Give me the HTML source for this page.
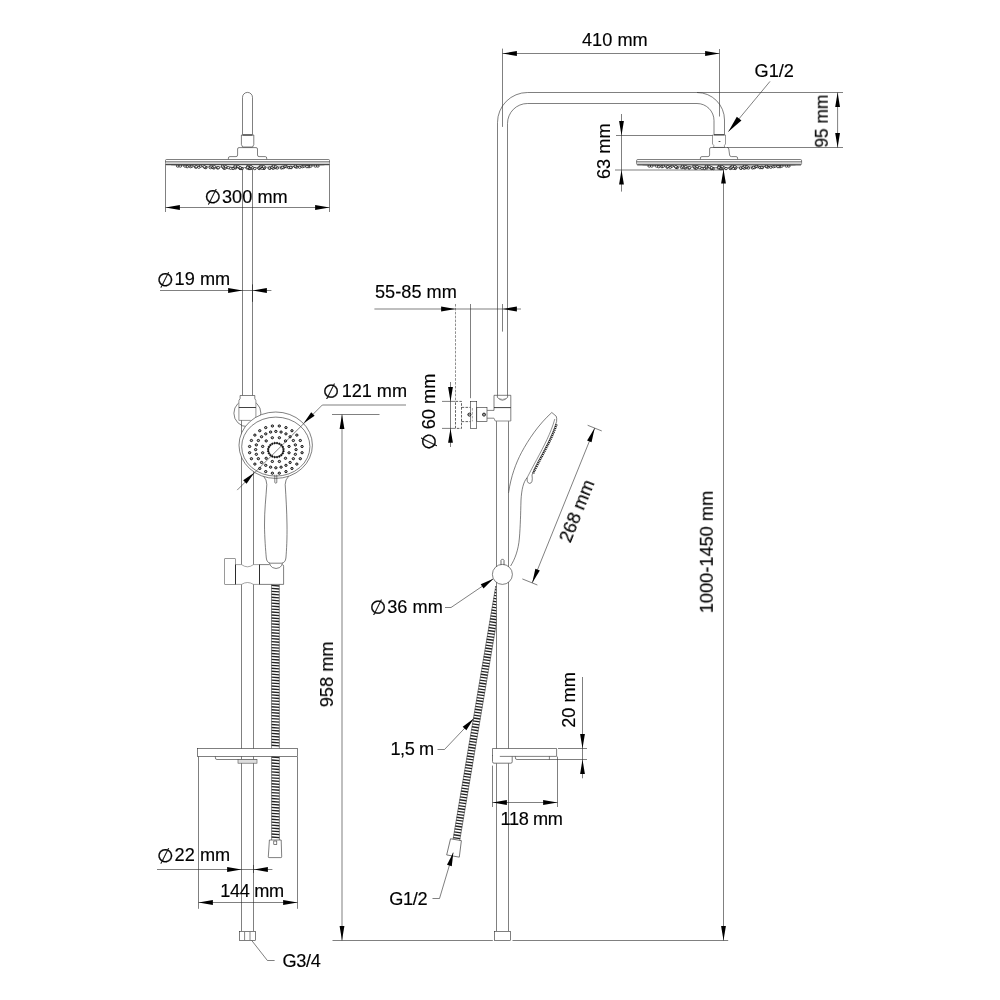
<!DOCTYPE html>
<html lang="en">
<head>
<meta charset="utf-8">
<title>Shower system dimensions</title>
<style>
html,body{margin:0;padding:0;background:#fff;}
body{width:1000px;height:1000px;overflow:hidden;}
svg{display:block;}
text{font-family:"Liberation Sans",Arial,sans-serif;fill:#000;stroke:#000;stroke-width:0.16px;stroke-linejoin:round;}
.d{stroke-width:0.3px;}
.d{font-family:"DejaVu Sans","Liberation Sans",sans-serif;font-size:19px;}
</style>
</head>
<body>
<svg width="1000" height="1000" viewBox="0 0 1000 1000">
<rect x="0" y="0" width="1000" height="1000" fill="#fff"/>
<path d="M242.5 134.5 V97.4 A5 5 0 0 1 252.5 97.4 V134.5" stroke="#2a2a2a" stroke-width="0.6" fill="none"/>
<path d="M241.4 135 H253.8 V144.5 L252.6 147 H242.6 L241.4 144.5 Z" stroke="#2a2a2a" stroke-width="0.6" fill="none"/>
<line x1="242.5" y1="135" x2="252.5" y2="135" stroke="#2a2a2a" stroke-width="1.1"/>
<path d="M228.4 159.5 V158 Q228.4 156.6 230 156.6 H236 Q237.6 156.6 237.6 155 V149 Q237.6 147.6 239 147.6 H256 Q257.5 147.6 257.5 149 V155 Q257.5 156.6 259 156.6 H265.2 Q266.7 156.6 266.7 158 V159.5" stroke="#2a2a2a" stroke-width="0.6" fill="none"/>
<path d="M171 164.8 Q247.75 170.2 324.5 164.8" stroke="#444" stroke-width="0.6" fill="none"/>
<ellipse cx="291.08" cy="167.67" rx="1.45" ry="1.1" stroke="#000" stroke-width="0.7" fill="#fff"/>
<ellipse cx="308.96" cy="166.7" rx="1.45" ry="1.1" stroke="#000" stroke-width="0.7" fill="#fff"/>
<ellipse cx="273.1" cy="168.31" rx="1.45" ry="1.1" stroke="#000" stroke-width="0.7" fill="#fff"/>
<ellipse cx="317.75" cy="166.09" rx="1.45" ry="1.1" stroke="#000" stroke-width="0.7" fill="#fff"/>
<ellipse cx="177.82" cy="166.09" rx="1.45" ry="1.1" stroke="#000" stroke-width="0.7" fill="#fff"/>
<ellipse cx="195.8" cy="167.23" rx="1.45" ry="1.1" stroke="#000" stroke-width="0.7" fill="#fff"/>
<ellipse cx="299.68" cy="167.23" rx="1.45" ry="1.1" stroke="#000" stroke-width="0.7" fill="#fff"/>
<ellipse cx="263.99" cy="168.51" rx="1.45" ry="1.1" stroke="#000" stroke-width="0.7" fill="#fff"/>
<ellipse cx="187.21" cy="166.7" rx="1.45" ry="1.1" stroke="#000" stroke-width="0.7" fill="#fff"/>
<ellipse cx="213.79" cy="168.04" rx="1.45" ry="1.1" stroke="#000" stroke-width="0.7" fill="#fff"/>
<ellipse cx="281.5" cy="168.04" rx="1.45" ry="1.1" stroke="#000" stroke-width="0.7" fill="#fff"/>
<ellipse cx="205.75" cy="167.67" rx="1.45" ry="1.1" stroke="#000" stroke-width="0.7" fill="#fff"/>
<ellipse cx="306.96" cy="166.7" rx="1.45" ry="1.1" stroke="#000" stroke-width="0.7" fill="#fff"/>
<ellipse cx="315.43" cy="166.09" rx="1.45" ry="1.1" stroke="#000" stroke-width="0.7" fill="#fff"/>
<ellipse cx="180.27" cy="166.09" rx="1.45" ry="1.1" stroke="#000" stroke-width="0.7" fill="#fff"/>
<ellipse cx="288.9" cy="167.67" rx="1.45" ry="1.1" stroke="#000" stroke-width="0.7" fill="#fff"/>
<ellipse cx="254.77" cy="168.62" rx="1.45" ry="1.1" stroke="#000" stroke-width="0.7" fill="#fff"/>
<ellipse cx="198.8" cy="167.23" rx="1.45" ry="1.1" stroke="#000" stroke-width="0.7" fill="#fff"/>
<ellipse cx="296.65" cy="167.23" rx="1.45" ry="1.1" stroke="#000" stroke-width="0.7" fill="#fff"/>
<ellipse cx="190.53" cy="166.7" rx="1.45" ry="1.1" stroke="#000" stroke-width="0.7" fill="#fff"/>
<ellipse cx="224.14" cy="168.31" rx="1.45" ry="1.1" stroke="#000" stroke-width="0.7" fill="#fff"/>
<ellipse cx="310.81" cy="166.09" rx="1.45" ry="1.1" stroke="#000" stroke-width="0.7" fill="#fff"/>
<ellipse cx="185.01" cy="166.09" rx="1.45" ry="1.1" stroke="#000" stroke-width="0.7" fill="#fff"/>
<ellipse cx="302.36" cy="166.7" rx="1.45" ry="1.1" stroke="#000" stroke-width="0.7" fill="#fff"/>
<ellipse cx="233.1" cy="168.51" rx="1.45" ry="1.1" stroke="#000" stroke-width="0.7" fill="#fff"/>
<ellipse cx="217.68" cy="168.04" rx="1.45" ry="1.1" stroke="#000" stroke-width="0.7" fill="#fff"/>
<ellipse cx="269.82" cy="168.31" rx="1.45" ry="1.1" stroke="#000" stroke-width="0.7" fill="#fff"/>
<ellipse cx="210.48" cy="167.67" rx="1.45" ry="1.1" stroke="#000" stroke-width="0.7" fill="#fff"/>
<ellipse cx="277.22" cy="168.04" rx="1.45" ry="1.1" stroke="#000" stroke-width="0.7" fill="#fff"/>
<ellipse cx="196.34" cy="166.7" rx="1.45" ry="1.1" stroke="#000" stroke-width="0.7" fill="#fff"/>
<ellipse cx="204.65" cy="167.23" rx="1.45" ry="1.1" stroke="#000" stroke-width="0.7" fill="#fff"/>
<ellipse cx="290.77" cy="167.23" rx="1.45" ry="1.1" stroke="#000" stroke-width="0.7" fill="#fff"/>
<ellipse cx="283.38" cy="167.67" rx="1.45" ry="1.1" stroke="#000" stroke-width="0.7" fill="#fff"/>
<ellipse cx="304.04" cy="166.09" rx="1.45" ry="1.1" stroke="#000" stroke-width="0.7" fill="#fff"/>
<ellipse cx="191.9" cy="166.09" rx="1.45" ry="1.1" stroke="#000" stroke-width="0.7" fill="#fff"/>
<ellipse cx="295.39" cy="166.7" rx="1.45" ry="1.1" stroke="#000" stroke-width="0.7" fill="#fff"/>
<ellipse cx="242.02" cy="168.62" rx="1.45" ry="1.1" stroke="#000" stroke-width="0.7" fill="#fff"/>
<ellipse cx="259.38" cy="168.51" rx="1.45" ry="1.1" stroke="#000" stroke-width="0.7" fill="#fff"/>
<ellipse cx="204.41" cy="166.7" rx="1.45" ry="1.1" stroke="#000" stroke-width="0.7" fill="#fff"/>
<ellipse cx="218.23" cy="167.67" rx="1.45" ry="1.1" stroke="#000" stroke-width="0.7" fill="#fff"/>
<ellipse cx="295.35" cy="166.09" rx="1.45" ry="1.1" stroke="#000" stroke-width="0.7" fill="#fff"/>
<ellipse cx="230.56" cy="168.31" rx="1.45" ry="1.1" stroke="#000" stroke-width="0.7" fill="#fff"/>
<ellipse cx="200.68" cy="166.09" rx="1.45" ry="1.1" stroke="#000" stroke-width="0.7" fill="#fff"/>
<ellipse cx="213" cy="167.23" rx="1.45" ry="1.1" stroke="#000" stroke-width="0.7" fill="#fff"/>
<ellipse cx="282.4" cy="167.23" rx="1.45" ry="1.1" stroke="#000" stroke-width="0.7" fill="#fff"/>
<ellipse cx="225.19" cy="168.04" rx="1.45" ry="1.1" stroke="#000" stroke-width="0.7" fill="#fff"/>
<ellipse cx="269.39" cy="168.04" rx="1.45" ry="1.1" stroke="#000" stroke-width="0.7" fill="#fff"/>
<ellipse cx="286.32" cy="166.7" rx="1.45" ry="1.1" stroke="#000" stroke-width="0.7" fill="#fff"/>
<ellipse cx="274.98" cy="167.67" rx="1.45" ry="1.1" stroke="#000" stroke-width="0.7" fill="#fff"/>
<ellipse cx="262.17" cy="168.31" rx="1.45" ry="1.1" stroke="#000" stroke-width="0.7" fill="#fff"/>
<ellipse cx="214.37" cy="166.7" rx="1.45" ry="1.1" stroke="#000" stroke-width="0.7" fill="#fff"/>
<ellipse cx="285.05" cy="166.09" rx="1.45" ry="1.1" stroke="#000" stroke-width="0.7" fill="#fff"/>
<ellipse cx="211.07" cy="166.09" rx="1.45" ry="1.1" stroke="#000" stroke-width="0.7" fill="#fff"/>
<ellipse cx="223.37" cy="167.23" rx="1.45" ry="1.1" stroke="#000" stroke-width="0.7" fill="#fff"/>
<ellipse cx="272" cy="167.23" rx="1.45" ry="1.1" stroke="#000" stroke-width="0.7" fill="#fff"/>
<ellipse cx="275.58" cy="166.7" rx="1.45" ry="1.1" stroke="#000" stroke-width="0.7" fill="#fff"/>
<ellipse cx="240.28" cy="168.51" rx="1.45" ry="1.1" stroke="#000" stroke-width="0.7" fill="#fff"/>
<ellipse cx="228.37" cy="167.67" rx="1.45" ry="1.1" stroke="#000" stroke-width="0.7" fill="#fff"/>
<ellipse cx="264.37" cy="167.67" rx="1.45" ry="1.1" stroke="#000" stroke-width="0.7" fill="#fff"/>
<ellipse cx="273.47" cy="166.09" rx="1.45" ry="1.1" stroke="#000" stroke-width="0.7" fill="#fff"/>
<ellipse cx="225.78" cy="166.7" rx="1.45" ry="1.1" stroke="#000" stroke-width="0.7" fill="#fff"/>
<ellipse cx="235.43" cy="168.04" rx="1.45" ry="1.1" stroke="#000" stroke-width="0.7" fill="#fff"/>
<ellipse cx="222.7" cy="166.09" rx="1.45" ry="1.1" stroke="#000" stroke-width="0.7" fill="#fff"/>
<ellipse cx="258.94" cy="168.04" rx="1.45" ry="1.1" stroke="#000" stroke-width="0.7" fill="#fff"/>
<ellipse cx="240.38" cy="168.31" rx="1.45" ry="1.1" stroke="#000" stroke-width="0.7" fill="#fff"/>
<ellipse cx="263.61" cy="166.7" rx="1.45" ry="1.1" stroke="#000" stroke-width="0.7" fill="#fff"/>
<ellipse cx="235.16" cy="167.23" rx="1.45" ry="1.1" stroke="#000" stroke-width="0.7" fill="#fff"/>
<ellipse cx="260.2" cy="167.23" rx="1.45" ry="1.1" stroke="#000" stroke-width="0.7" fill="#fff"/>
<ellipse cx="261.02" cy="166.09" rx="1.45" ry="1.1" stroke="#000" stroke-width="0.7" fill="#fff"/>
<ellipse cx="235.19" cy="166.09" rx="1.45" ry="1.1" stroke="#000" stroke-width="0.7" fill="#fff"/>
<ellipse cx="240.09" cy="167.67" rx="1.45" ry="1.1" stroke="#000" stroke-width="0.7" fill="#fff"/>
<ellipse cx="249.05" cy="168.62" rx="1.45" ry="1.1" stroke="#000" stroke-width="0.7" fill="#fff"/>
<ellipse cx="238.16" cy="166.7" rx="1.45" ry="1.1" stroke="#000" stroke-width="0.7" fill="#fff"/>
<ellipse cx="250.32" cy="168.51" rx="1.45" ry="1.1" stroke="#000" stroke-width="0.7" fill="#fff"/>
<ellipse cx="251.66" cy="168.31" rx="1.45" ry="1.1" stroke="#000" stroke-width="0.7" fill="#fff"/>
<ellipse cx="252.42" cy="167.67" rx="1.45" ry="1.1" stroke="#000" stroke-width="0.7" fill="#fff"/>
<ellipse cx="250.96" cy="166.7" rx="1.45" ry="1.1" stroke="#000" stroke-width="0.7" fill="#fff"/>
<ellipse cx="247.15" cy="168.04" rx="1.45" ry="1.1" stroke="#000" stroke-width="0.7" fill="#fff"/>
<ellipse cx="248.11" cy="166.09" rx="1.45" ry="1.1" stroke="#000" stroke-width="0.7" fill="#fff"/>
<ellipse cx="247.68" cy="167.23" rx="1.45" ry="1.1" stroke="#000" stroke-width="0.7" fill="#fff"/>
<path d="M166.5 159.5 H328.5 Q329.5 159.5 329.5 160.5 V163.6 Q329.5 164.7 328.5 164.7 H166.5 Q165.5 164.7 165.5 163.6 V160.5 Q165.5 159.5 166.5 159.5 Z" stroke="#2a2a2a" stroke-width="0.6" fill="#fff"/>
<rect x="165.8" y="162.2" width="163.4" height="2.3" rx="0" stroke="none" stroke-width="0.6" fill="#d0d0d0"/>
<line x1="165.5" y1="161.7" x2="329.5" y2="161.7" stroke="#2a2a2a" stroke-width="0.6"/>
<line x1="166" y1="164.6" x2="329" y2="164.6" stroke="#222" stroke-width="0.8"/>
<line x1="242.5" y1="169.5" x2="242.5" y2="395.5" stroke="#2a2a2a" stroke-width="0.6"/>
<line x1="252.5" y1="169.5" x2="252.5" y2="395.5" stroke="#2a2a2a" stroke-width="0.6"/>
<circle cx="247.4" cy="413.2" r="13.5" stroke="#2a2a2a" stroke-width="0.6" fill="none"/>
<path d="M240.1 395.5 H254.8 V398.5 L255.9 400.6 V420.4 H238.9 V400.6 L240.1 398.5 Z" stroke="#fff" stroke-width="0.1" fill="#fff"/>
<path d="M238.9 400.6 L240.1 398.5 V395.5 H254.8 V398.5 L255.9 400.6" stroke="#2a2a2a" stroke-width="0.6" fill="none"/>
<path d="M238.9 400.6 V420.4 H250.5 M255.9 400.6 V420.4" stroke="#8a8a8a" stroke-width="0.9" fill="none"/>
<line x1="238.9" y1="407.5" x2="255.9" y2="407.5" stroke="#111" stroke-width="0.8"/>
<line x1="241.5" y1="420.4" x2="241.5" y2="931" stroke="#2a2a2a" stroke-width="0.6"/>
<line x1="253.5" y1="420.5" x2="253.5" y2="931" stroke="#2a2a2a" stroke-width="0.6"/>
<rect x="239.5" y="931.5" width="16" height="9" rx="0" stroke="#2a2a2a" stroke-width="0.6" fill="#fff"/>
<line x1="244.6" y1="931.5" x2="244.6" y2="940.5" stroke="#777" stroke-width="0.9"/>
<line x1="250" y1="931.5" x2="250" y2="940.5" stroke="#777" stroke-width="0.9"/>
<rect x="197.5" y="748.5" width="100" height="8" rx="0" stroke="#2a2a2a" stroke-width="0.6" fill="#fff"/>
<path d="M215.4 756.5 V758 Q215.4 759.5 217 759.5 H257" stroke="#2a2a2a" stroke-width="0.6" fill="none"/>
<rect x="238" y="759.5" width="19" height="3.7" rx="0" stroke="#555" stroke-width="0.6" fill="#ddd"/>
<path d="M271.5 585.4 L279.3 586 M271.5 588.36 L279.3 588.96 M271.5 591.32 L279.3 591.92 M271.5 594.28 L279.3 594.88 M271.51 597.24 L279.31 597.84 M271.51 600.2 L279.31 600.8 M271.51 603.16 L279.31 603.76 M271.51 606.12 L279.31 606.72 M271.51 609.08 L279.31 609.68 M271.51 612.04 L279.31 612.64 M271.51 615 L279.31 615.6 M271.51 617.96 L279.31 618.56 M271.51 620.92 L279.31 621.52 M271.52 623.88 L279.32 624.48 M271.52 626.84 L279.32 627.44 M271.52 629.8 L279.32 630.4 M271.52 632.76 L279.32 633.36 M271.52 635.72 L279.32 636.32 M271.52 638.68 L279.32 639.28 M271.52 641.64 L279.32 642.24 M271.52 644.6 L279.32 645.2 M271.52 647.56 L279.32 648.16 M271.53 650.52 L279.33 651.12 M271.53 653.48 L279.33 654.08 M271.53 656.44 L279.33 657.04 M271.53 659.4 L279.33 660 M271.53 662.36 L279.33 662.96 M271.53 665.32 L279.33 665.92 M271.53 668.28 L279.33 668.88 M271.53 671.24 L279.33 671.84 M271.54 674.2 L279.34 674.8 M271.54 677.16 L279.34 677.76 M271.54 680.12 L279.34 680.72 M271.54 683.08 L279.34 683.68 M271.54 686.04 L279.34 686.64 M271.54 689 L279.34 689.6 M271.54 691.96 L279.34 692.56 M271.54 694.92 L279.34 695.52 M271.54 697.88 L279.34 698.48 M271.55 700.84 L279.35 701.44 M271.55 703.8 L279.35 704.4 M271.55 706.76 L279.35 707.36 M271.55 709.72 L279.35 710.32 M271.55 712.68 L279.35 713.28 M271.55 715.64 L279.35 716.24 M271.55 718.6 L279.35 719.2 M271.55 721.56 L279.35 722.16 M271.55 724.52 L279.35 725.12 M271.56 727.48 L279.36 728.08 M271.56 730.44 L279.36 731.04 M271.56 733.4 L279.36 734 M271.56 736.36 L279.36 736.96 M271.56 739.32 L279.36 739.92 M271.56 742.28 L279.36 742.88 M271.56 745.24 L279.36 745.84 M271.57 757.08 L279.37 757.68 M271.57 760.04 L279.37 760.64 M271.57 763 L279.37 763.6 M271.57 765.96 L279.37 766.56 M271.57 768.92 L279.37 769.52 M271.57 771.88 L279.37 772.48 M271.57 774.84 L279.37 775.44 M271.58 777.8 L279.38 778.4 M271.58 780.76 L279.38 781.36 M271.58 783.72 L279.38 784.32 M271.58 786.68 L279.38 787.28 M271.58 789.64 L279.38 790.24 M271.58 792.6 L279.38 793.2 M271.58 795.56 L279.38 796.16 M271.58 798.52 L279.38 799.12 M271.59 801.48 L279.39 802.08 M271.59 804.44 L279.39 805.04 M271.59 807.4 L279.39 808 M271.59 810.36 L279.39 810.96 M271.59 813.32 L279.39 813.92 M271.59 816.28 L279.39 816.88 M271.59 819.24 L279.39 819.84 M271.59 822.2 L279.39 822.8 M271.59 825.16 L279.39 825.76 M271.6 828.12 L279.4 828.72 M271.6 831.08 L279.4 831.68 M271.6 834.04 L279.4 834.64 M271.6 837 L279.4 837.6" stroke="#222" stroke-width="1.35" fill="none"/>
<line x1="271.5" y1="584.5" x2="271.56" y2="748.4" stroke="#444" stroke-width="0.6"/>
<line x1="279.3" y1="584.5" x2="279.36" y2="748.4" stroke="#444" stroke-width="0.6"/>
<line x1="271.57" y1="756.6" x2="271.6" y2="840" stroke="#444" stroke-width="0.6"/>
<line x1="279.37" y1="756.6" x2="279.4" y2="840" stroke="#444" stroke-width="0.6"/>
<path d="M269.4 840 H281.2 L281.7 856.8 Q281.7 857.6 280.9 857.6 H269 Q268.2 857.6 268.3 856.8 Z" stroke="#2a2a2a" stroke-width="0.6" fill="#fff"/>
<rect x="273.8" y="841" width="3" height="3.4" rx="0" stroke="#2a2a2a" stroke-width="0.6" fill="none"/>
<path d="M263.6 476.4 Q266.8 479.4 266.8 484.5 C266 498 264.4 510 264.5 525 C264.6 538 265.6 550 266.3 558 Q266.8 562.8 270.6 563.2 H281.4 Q285.4 562.8 285.9 558 C286.6 550 287.2 538 287 525 C286.8 510 286 498 285.2 484.5 Q285.2 479.4 288.6 476.4" stroke="#2a2a2a" stroke-width="0.6" fill="#fff"/>
<path d="M269.5 563.2 Q270 566 272.6 567.6 Q276 569.4 279.6 567.6 Q282 566 282.4 563.2" stroke="#2a2a2a" stroke-width="0.6" fill="none"/>
<ellipse cx="275.7" cy="445.2" rx="36.7" ry="33.2" stroke="#2a2a2a" stroke-width="0.6" fill="#fff"/>
<ellipse cx="275.8" cy="446.6" rx="34.1" ry="29.5" stroke="#2a2a2a" stroke-width="0.6" fill="none"/>
<path d="M274.8 474.7 V482.6 Q275.8 483.8 276.8 482.6 V474.7" stroke="#2a2a2a" stroke-width="0.6" fill="none"/>
<ellipse cx="279.38" cy="437.73" rx="1.2" ry="1.1" stroke="#000" stroke-width="0.9" fill="#c0c0c0"/>
<ellipse cx="285.5" cy="440.91" rx="1.2" ry="1.1" stroke="#000" stroke-width="0.9" fill="#c0c0c0"/>
<ellipse cx="289.03" cy="446.42" rx="1.2" ry="1.1" stroke="#000" stroke-width="0.9" fill="#c0c0c0"/>
<ellipse cx="289.03" cy="452.78" rx="1.2" ry="1.1" stroke="#000" stroke-width="0.9" fill="#c0c0c0"/>
<ellipse cx="285.5" cy="458.29" rx="1.2" ry="1.1" stroke="#000" stroke-width="0.9" fill="#c0c0c0"/>
<ellipse cx="279.38" cy="461.47" rx="1.2" ry="1.1" stroke="#000" stroke-width="0.9" fill="#c0c0c0"/>
<ellipse cx="272.32" cy="461.47" rx="1.2" ry="1.1" stroke="#000" stroke-width="0.9" fill="#c0c0c0"/>
<ellipse cx="266.2" cy="458.29" rx="1.2" ry="1.1" stroke="#000" stroke-width="0.9" fill="#c0c0c0"/>
<ellipse cx="262.67" cy="452.78" rx="1.2" ry="1.1" stroke="#000" stroke-width="0.9" fill="#c0c0c0"/>
<ellipse cx="262.67" cy="446.42" rx="1.2" ry="1.1" stroke="#000" stroke-width="0.9" fill="#c0c0c0"/>
<ellipse cx="266.2" cy="440.91" rx="1.2" ry="1.1" stroke="#000" stroke-width="0.9" fill="#c0c0c0"/>
<ellipse cx="272.32" cy="437.73" rx="1.2" ry="1.1" stroke="#000" stroke-width="0.9" fill="#c0c0c0"/>
<ellipse cx="275.85" cy="431.42" rx="1.2" ry="1.1" stroke="#000" stroke-width="0.9" fill="#c0c0c0"/>
<ellipse cx="281.08" cy="432.04" rx="1.2" ry="1.1" stroke="#000" stroke-width="0.9" fill="#c0c0c0"/>
<ellipse cx="285.95" cy="433.86" rx="1.2" ry="1.1" stroke="#000" stroke-width="0.9" fill="#c0c0c0"/>
<ellipse cx="290.13" cy="436.74" rx="1.2" ry="1.1" stroke="#000" stroke-width="0.9" fill="#c0c0c0"/>
<ellipse cx="293.34" cy="440.51" rx="1.2" ry="1.1" stroke="#000" stroke-width="0.9" fill="#c0c0c0"/>
<ellipse cx="295.36" cy="444.89" rx="1.2" ry="1.1" stroke="#000" stroke-width="0.9" fill="#c0c0c0"/>
<ellipse cx="296.05" cy="449.6" rx="1.2" ry="1.1" stroke="#000" stroke-width="0.9" fill="#c0c0c0"/>
<ellipse cx="295.36" cy="454.31" rx="1.2" ry="1.1" stroke="#000" stroke-width="0.9" fill="#c0c0c0"/>
<ellipse cx="293.34" cy="458.69" rx="1.2" ry="1.1" stroke="#000" stroke-width="0.9" fill="#c0c0c0"/>
<ellipse cx="290.13" cy="462.46" rx="1.2" ry="1.1" stroke="#000" stroke-width="0.9" fill="#c0c0c0"/>
<ellipse cx="285.95" cy="465.34" rx="1.2" ry="1.1" stroke="#000" stroke-width="0.9" fill="#c0c0c0"/>
<ellipse cx="281.08" cy="467.16" rx="1.2" ry="1.1" stroke="#000" stroke-width="0.9" fill="#c0c0c0"/>
<ellipse cx="275.85" cy="467.78" rx="1.2" ry="1.1" stroke="#000" stroke-width="0.9" fill="#c0c0c0"/>
<ellipse cx="270.62" cy="467.16" rx="1.2" ry="1.1" stroke="#000" stroke-width="0.9" fill="#c0c0c0"/>
<ellipse cx="265.75" cy="465.34" rx="1.2" ry="1.1" stroke="#000" stroke-width="0.9" fill="#c0c0c0"/>
<ellipse cx="261.57" cy="462.46" rx="1.2" ry="1.1" stroke="#000" stroke-width="0.9" fill="#c0c0c0"/>
<ellipse cx="258.36" cy="458.69" rx="1.2" ry="1.1" stroke="#000" stroke-width="0.9" fill="#c0c0c0"/>
<ellipse cx="256.34" cy="454.31" rx="1.2" ry="1.1" stroke="#000" stroke-width="0.9" fill="#c0c0c0"/>
<ellipse cx="255.65" cy="449.6" rx="1.2" ry="1.1" stroke="#000" stroke-width="0.9" fill="#c0c0c0"/>
<ellipse cx="256.34" cy="444.89" rx="1.2" ry="1.1" stroke="#000" stroke-width="0.9" fill="#c0c0c0"/>
<ellipse cx="258.36" cy="440.51" rx="1.2" ry="1.1" stroke="#000" stroke-width="0.9" fill="#c0c0c0"/>
<ellipse cx="261.57" cy="436.74" rx="1.2" ry="1.1" stroke="#000" stroke-width="0.9" fill="#c0c0c0"/>
<ellipse cx="265.75" cy="433.86" rx="1.2" ry="1.1" stroke="#000" stroke-width="0.9" fill="#c0c0c0"/>
<ellipse cx="270.62" cy="432.04" rx="1.2" ry="1.1" stroke="#000" stroke-width="0.9" fill="#c0c0c0"/>
<ellipse cx="279.3" cy="426" rx="1.2" ry="1.1" stroke="#000" stroke-width="0.9" fill="#c0c0c0"/>
<ellipse cx="285.97" cy="427.61" rx="1.2" ry="1.1" stroke="#000" stroke-width="0.9" fill="#c0c0c0"/>
<ellipse cx="291.95" cy="430.71" rx="1.2" ry="1.1" stroke="#000" stroke-width="0.9" fill="#c0c0c0"/>
<ellipse cx="296.83" cy="435.11" rx="1.2" ry="1.1" stroke="#000" stroke-width="0.9" fill="#c0c0c0"/>
<ellipse cx="300.29" cy="440.49" rx="1.2" ry="1.1" stroke="#000" stroke-width="0.9" fill="#c0c0c0"/>
<ellipse cx="302.07" cy="446.49" rx="1.2" ry="1.1" stroke="#000" stroke-width="0.9" fill="#c0c0c0"/>
<ellipse cx="302.07" cy="452.71" rx="1.2" ry="1.1" stroke="#000" stroke-width="0.9" fill="#c0c0c0"/>
<ellipse cx="300.29" cy="458.71" rx="1.2" ry="1.1" stroke="#000" stroke-width="0.9" fill="#c0c0c0"/>
<ellipse cx="296.83" cy="464.09" rx="1.2" ry="1.1" stroke="#000" stroke-width="0.9" fill="#c0c0c0"/>
<ellipse cx="291.95" cy="468.49" rx="1.2" ry="1.1" stroke="#000" stroke-width="0.9" fill="#c0c0c0"/>
<ellipse cx="285.97" cy="471.59" rx="1.2" ry="1.1" stroke="#000" stroke-width="0.9" fill="#c0c0c0"/>
<ellipse cx="279.3" cy="473.2" rx="1.2" ry="1.1" stroke="#000" stroke-width="0.9" fill="#c0c0c0"/>
<ellipse cx="272.4" cy="473.2" rx="1.2" ry="1.1" stroke="#000" stroke-width="0.9" fill="#c0c0c0"/>
<ellipse cx="265.73" cy="471.59" rx="1.2" ry="1.1" stroke="#000" stroke-width="0.9" fill="#c0c0c0"/>
<ellipse cx="259.75" cy="468.49" rx="1.2" ry="1.1" stroke="#000" stroke-width="0.9" fill="#c0c0c0"/>
<ellipse cx="254.87" cy="464.09" rx="1.2" ry="1.1" stroke="#000" stroke-width="0.9" fill="#c0c0c0"/>
<ellipse cx="251.41" cy="458.71" rx="1.2" ry="1.1" stroke="#000" stroke-width="0.9" fill="#c0c0c0"/>
<ellipse cx="249.63" cy="452.71" rx="1.2" ry="1.1" stroke="#000" stroke-width="0.9" fill="#c0c0c0"/>
<ellipse cx="249.63" cy="446.49" rx="1.2" ry="1.1" stroke="#000" stroke-width="0.9" fill="#c0c0c0"/>
<ellipse cx="251.41" cy="440.49" rx="1.2" ry="1.1" stroke="#000" stroke-width="0.9" fill="#c0c0c0"/>
<ellipse cx="254.87" cy="435.11" rx="1.2" ry="1.1" stroke="#000" stroke-width="0.9" fill="#c0c0c0"/>
<ellipse cx="259.75" cy="430.71" rx="1.2" ry="1.1" stroke="#000" stroke-width="0.9" fill="#c0c0c0"/>
<ellipse cx="265.73" cy="427.61" rx="1.2" ry="1.1" stroke="#000" stroke-width="0.9" fill="#c0c0c0"/>
<ellipse cx="272.4" cy="426" rx="1.2" ry="1.1" stroke="#000" stroke-width="0.9" fill="#c0c0c0"/>
<circle cx="277.05" cy="443.09" r="0.85" stroke="#000" stroke-width="0.6" fill="#111"/>
<circle cx="279.35" cy="443.77" r="0.85" stroke="#000" stroke-width="0.6" fill="#111"/>
<circle cx="281.29" cy="445.08" r="0.85" stroke="#000" stroke-width="0.6" fill="#111"/>
<circle cx="282.71" cy="446.88" r="0.85" stroke="#000" stroke-width="0.6" fill="#111"/>
<circle cx="283.46" cy="448.99" r="0.85" stroke="#000" stroke-width="0.6" fill="#111"/>
<circle cx="283.46" cy="451.21" r="0.85" stroke="#000" stroke-width="0.6" fill="#111"/>
<circle cx="282.71" cy="453.32" r="0.85" stroke="#000" stroke-width="0.6" fill="#111"/>
<circle cx="281.29" cy="455.12" r="0.85" stroke="#000" stroke-width="0.6" fill="#111"/>
<circle cx="279.35" cy="456.43" r="0.85" stroke="#000" stroke-width="0.6" fill="#111"/>
<circle cx="277.05" cy="457.11" r="0.85" stroke="#000" stroke-width="0.6" fill="#111"/>
<circle cx="274.65" cy="457.11" r="0.85" stroke="#000" stroke-width="0.6" fill="#111"/>
<circle cx="272.35" cy="456.43" r="0.85" stroke="#000" stroke-width="0.6" fill="#111"/>
<circle cx="270.41" cy="455.12" r="0.85" stroke="#000" stroke-width="0.6" fill="#111"/>
<circle cx="268.99" cy="453.32" r="0.85" stroke="#000" stroke-width="0.6" fill="#111"/>
<circle cx="268.24" cy="451.21" r="0.85" stroke="#000" stroke-width="0.6" fill="#111"/>
<circle cx="268.24" cy="448.99" r="0.85" stroke="#000" stroke-width="0.6" fill="#111"/>
<circle cx="268.99" cy="446.88" r="0.85" stroke="#000" stroke-width="0.6" fill="#111"/>
<circle cx="270.41" cy="445.08" r="0.85" stroke="#000" stroke-width="0.6" fill="#111"/>
<circle cx="272.35" cy="443.77" r="0.85" stroke="#000" stroke-width="0.6" fill="#111"/>
<circle cx="274.65" cy="443.09" r="0.85" stroke="#000" stroke-width="0.6" fill="#111"/>
<rect x="224.5" y="558.5" width="11" height="26" rx="0.5" stroke="#555" stroke-width="0.6" fill="#fff"/>
<path d="M235.5 564.6 H241.5 Q247.5 569 253.5 564.6 H259.5 V584.4 H253.5 Q247.5 580.6 241.5 584.4 H235.5 Z" stroke="#666" stroke-width="0.6" fill="#fff"/>
<line x1="235.5" y1="564.6" x2="235.5" y2="584.4" stroke="#111" stroke-width="0.8"/>
<line x1="259.5" y1="564.6" x2="259.5" y2="584.4" stroke="#111" stroke-width="0.8"/>
<path d="M259.5 564.6 H269.5 M282.4 564.6 Q283.6 564.8 283.6 566.4 V584.4 H259.5" stroke="#2a2a2a" stroke-width="0.6" fill="none"/>
<line x1="165.5" y1="164" x2="165.5" y2="212" stroke="#2a2a2a" stroke-width="0.6"/>
<line x1="329.5" y1="164" x2="329.5" y2="212" stroke="#2a2a2a" stroke-width="0.6"/>
<line x1="165.5" y1="207.5" x2="329.5" y2="207.5" stroke="#2a2a2a" stroke-width="0.6"/>
<polygon points="165.5,207.5 179.9,205.1 179.9,209.9" fill="#000"/>
<polygon points="329.5,207.5 315.1,209.9 315.1,205.1" fill="#000"/>
<line x1="160" y1="290.5" x2="271.4" y2="290.5" stroke="#2a2a2a" stroke-width="0.6"/>
<polygon points="242.5,290.5 228.1,292.9 228.1,288.1" fill="#000"/>
<polygon points="252.5,290.5 266.9,288.1 266.9,292.9" fill="#000"/>
<line x1="252.5" y1="284.4" x2="252.5" y2="301.8" stroke="#111" stroke-width="0.65"/>
<line x1="322.3" y1="405" x2="406" y2="405" stroke="#2a2a2a" stroke-width="0.6"/>
<line x1="322.3" y1="405" x2="249.6" y2="477.7" stroke="#2a2a2a" stroke-width="0.6"/>
<line x1="249.6" y1="477.7" x2="237.2" y2="490.1" stroke="#2a2a2a" stroke-width="0.6"/>
<polygon points="303.6,423.3 311.24,412.27 314.63,415.66" fill="#000"/>
<polygon points="254.2,472.7 246.56,483.73 243.17,480.34" fill="#000"/>
<line x1="332" y1="414.5" x2="379.5" y2="414.5" stroke="#2a2a2a" stroke-width="0.6"/>
<line x1="342" y1="414.5" x2="342" y2="940.5" stroke="#2a2a2a" stroke-width="0.6"/>
<polygon points="342,414.5 344.4,428.9 339.6,428.9" fill="#000"/>
<polygon points="342,940.5 339.6,926.1 344.4,926.1" fill="#000"/>
<line x1="157" y1="869.5" x2="272.4" y2="869.5" stroke="#2a2a2a" stroke-width="0.6"/>
<line x1="253.5" y1="865" x2="253.5" y2="873" stroke="#222" stroke-width="0.6"/>
<polygon points="241.5,869.5 227.1,871.9 227.1,867.1" fill="#000"/>
<polygon points="253.5,869.5 267.9,867.1 267.9,871.9" fill="#000"/>
<line x1="198.5" y1="756.6" x2="198.5" y2="908.8" stroke="#2a2a2a" stroke-width="0.6"/>
<line x1="297.5" y1="756.6" x2="297.5" y2="908.8" stroke="#2a2a2a" stroke-width="0.6"/>
<line x1="198.5" y1="902.5" x2="297.5" y2="902.5" stroke="#2a2a2a" stroke-width="0.6"/>
<polygon points="198.5,902.5 212.9,900.1 212.9,904.9" fill="#000"/>
<polygon points="297.5,902.5 283.1,904.9 283.1,900.1" fill="#000"/>
<path d="M251.8 940.6 L267.4 960.5 H274.6" stroke="#2a2a2a" stroke-width="0.6" fill="none"/>
<path d="M497.5 395.4 V122.5 A30 30 0 0 1 527.5 92.5 H697 A27.5 27.5 0 0 1 724.5 120 V134.6" stroke="#2a2a2a" stroke-width="0.6" fill="none"/>
<path d="M507.5 395.4 V123.5 A20 20 0 0 1 527.5 103.5 H697 A17 17 0 0 1 714 120.5 V134.6" stroke="#2a2a2a" stroke-width="0.6" fill="none"/>
<line x1="714" y1="134.8" x2="724.5" y2="134.8" stroke="#111" stroke-width="1"/>
<path d="M712.5 135 H725.5 V144 L724.4 145.4 L724.6 147.4 H713.6 L713.8 145.4 L712.5 144 Z" stroke="#555" stroke-width="0.6" fill="none"/>
<line x1="718.6" y1="141.5" x2="720.4" y2="141.5" stroke="#222" stroke-width="0.8"/>
<path d="M700.4 159.5 V158 Q700.4 156.6 702 156.6 H708 Q709.6 156.6 709.6 155 V149 Q709.6 147.5 711 147.5 H727.2 Q728.6 147.5 728.8 149 L729.6 155 Q729.8 156.6 731.4 156.6 H736 Q737.6 156.6 737.6 158 V159.5" stroke="#2a2a2a" stroke-width="0.6" fill="none"/>
<path d="M642.5 164.8 Q719 170.2 795.5 164.8" stroke="#444" stroke-width="0.6" fill="none"/>
<ellipse cx="762.18" cy="167.67" rx="1.45" ry="1.1" stroke="#000" stroke-width="0.7" fill="#fff"/>
<ellipse cx="780.01" cy="166.7" rx="1.45" ry="1.1" stroke="#000" stroke-width="0.7" fill="#fff"/>
<ellipse cx="744.27" cy="168.31" rx="1.45" ry="1.1" stroke="#000" stroke-width="0.7" fill="#fff"/>
<ellipse cx="788.76" cy="166.09" rx="1.45" ry="1.1" stroke="#000" stroke-width="0.7" fill="#fff"/>
<ellipse cx="649.3" cy="166.09" rx="1.45" ry="1.1" stroke="#000" stroke-width="0.7" fill="#fff"/>
<ellipse cx="667.22" cy="167.23" rx="1.45" ry="1.1" stroke="#000" stroke-width="0.7" fill="#fff"/>
<ellipse cx="770.76" cy="167.23" rx="1.45" ry="1.1" stroke="#000" stroke-width="0.7" fill="#fff"/>
<ellipse cx="735.19" cy="168.51" rx="1.45" ry="1.1" stroke="#000" stroke-width="0.7" fill="#fff"/>
<ellipse cx="658.66" cy="166.7" rx="1.45" ry="1.1" stroke="#000" stroke-width="0.7" fill="#fff"/>
<ellipse cx="685.15" cy="168.04" rx="1.45" ry="1.1" stroke="#000" stroke-width="0.7" fill="#fff"/>
<ellipse cx="752.64" cy="168.04" rx="1.45" ry="1.1" stroke="#000" stroke-width="0.7" fill="#fff"/>
<ellipse cx="677.14" cy="167.67" rx="1.45" ry="1.1" stroke="#000" stroke-width="0.7" fill="#fff"/>
<ellipse cx="778.01" cy="166.7" rx="1.45" ry="1.1" stroke="#000" stroke-width="0.7" fill="#fff"/>
<ellipse cx="786.45" cy="166.09" rx="1.45" ry="1.1" stroke="#000" stroke-width="0.7" fill="#fff"/>
<ellipse cx="651.74" cy="166.09" rx="1.45" ry="1.1" stroke="#000" stroke-width="0.7" fill="#fff"/>
<ellipse cx="760.01" cy="167.67" rx="1.45" ry="1.1" stroke="#000" stroke-width="0.7" fill="#fff"/>
<ellipse cx="726" cy="168.62" rx="1.45" ry="1.1" stroke="#000" stroke-width="0.7" fill="#fff"/>
<ellipse cx="670.21" cy="167.23" rx="1.45" ry="1.1" stroke="#000" stroke-width="0.7" fill="#fff"/>
<ellipse cx="767.74" cy="167.23" rx="1.45" ry="1.1" stroke="#000" stroke-width="0.7" fill="#fff"/>
<ellipse cx="661.97" cy="166.7" rx="1.45" ry="1.1" stroke="#000" stroke-width="0.7" fill="#fff"/>
<ellipse cx="695.47" cy="168.31" rx="1.45" ry="1.1" stroke="#000" stroke-width="0.7" fill="#fff"/>
<ellipse cx="781.85" cy="166.09" rx="1.45" ry="1.1" stroke="#000" stroke-width="0.7" fill="#fff"/>
<ellipse cx="656.47" cy="166.09" rx="1.45" ry="1.1" stroke="#000" stroke-width="0.7" fill="#fff"/>
<ellipse cx="773.43" cy="166.7" rx="1.45" ry="1.1" stroke="#000" stroke-width="0.7" fill="#fff"/>
<ellipse cx="704.4" cy="168.51" rx="1.45" ry="1.1" stroke="#000" stroke-width="0.7" fill="#fff"/>
<ellipse cx="689.03" cy="168.04" rx="1.45" ry="1.1" stroke="#000" stroke-width="0.7" fill="#fff"/>
<ellipse cx="741" cy="168.31" rx="1.45" ry="1.1" stroke="#000" stroke-width="0.7" fill="#fff"/>
<ellipse cx="681.86" cy="167.67" rx="1.45" ry="1.1" stroke="#000" stroke-width="0.7" fill="#fff"/>
<ellipse cx="748.38" cy="168.04" rx="1.45" ry="1.1" stroke="#000" stroke-width="0.7" fill="#fff"/>
<ellipse cx="667.77" cy="166.7" rx="1.45" ry="1.1" stroke="#000" stroke-width="0.7" fill="#fff"/>
<ellipse cx="676.04" cy="167.23" rx="1.45" ry="1.1" stroke="#000" stroke-width="0.7" fill="#fff"/>
<ellipse cx="761.88" cy="167.23" rx="1.45" ry="1.1" stroke="#000" stroke-width="0.7" fill="#fff"/>
<ellipse cx="754.51" cy="167.67" rx="1.45" ry="1.1" stroke="#000" stroke-width="0.7" fill="#fff"/>
<ellipse cx="775.1" cy="166.09" rx="1.45" ry="1.1" stroke="#000" stroke-width="0.7" fill="#fff"/>
<ellipse cx="663.33" cy="166.09" rx="1.45" ry="1.1" stroke="#000" stroke-width="0.7" fill="#fff"/>
<ellipse cx="766.48" cy="166.7" rx="1.45" ry="1.1" stroke="#000" stroke-width="0.7" fill="#fff"/>
<ellipse cx="713.29" cy="168.62" rx="1.45" ry="1.1" stroke="#000" stroke-width="0.7" fill="#fff"/>
<ellipse cx="730.59" cy="168.51" rx="1.45" ry="1.1" stroke="#000" stroke-width="0.7" fill="#fff"/>
<ellipse cx="675.8" cy="166.7" rx="1.45" ry="1.1" stroke="#000" stroke-width="0.7" fill="#fff"/>
<ellipse cx="689.58" cy="167.67" rx="1.45" ry="1.1" stroke="#000" stroke-width="0.7" fill="#fff"/>
<ellipse cx="766.44" cy="166.09" rx="1.45" ry="1.1" stroke="#000" stroke-width="0.7" fill="#fff"/>
<ellipse cx="701.86" cy="168.31" rx="1.45" ry="1.1" stroke="#000" stroke-width="0.7" fill="#fff"/>
<ellipse cx="672.09" cy="166.09" rx="1.45" ry="1.1" stroke="#000" stroke-width="0.7" fill="#fff"/>
<ellipse cx="684.37" cy="167.23" rx="1.45" ry="1.1" stroke="#000" stroke-width="0.7" fill="#fff"/>
<ellipse cx="753.53" cy="167.23" rx="1.45" ry="1.1" stroke="#000" stroke-width="0.7" fill="#fff"/>
<ellipse cx="696.52" cy="168.04" rx="1.45" ry="1.1" stroke="#000" stroke-width="0.7" fill="#fff"/>
<ellipse cx="740.57" cy="168.04" rx="1.45" ry="1.1" stroke="#000" stroke-width="0.7" fill="#fff"/>
<ellipse cx="757.45" cy="166.7" rx="1.45" ry="1.1" stroke="#000" stroke-width="0.7" fill="#fff"/>
<ellipse cx="746.14" cy="167.67" rx="1.45" ry="1.1" stroke="#000" stroke-width="0.7" fill="#fff"/>
<ellipse cx="733.37" cy="168.31" rx="1.45" ry="1.1" stroke="#000" stroke-width="0.7" fill="#fff"/>
<ellipse cx="685.73" cy="166.7" rx="1.45" ry="1.1" stroke="#000" stroke-width="0.7" fill="#fff"/>
<ellipse cx="756.17" cy="166.09" rx="1.45" ry="1.1" stroke="#000" stroke-width="0.7" fill="#fff"/>
<ellipse cx="682.44" cy="166.09" rx="1.45" ry="1.1" stroke="#000" stroke-width="0.7" fill="#fff"/>
<ellipse cx="694.7" cy="167.23" rx="1.45" ry="1.1" stroke="#000" stroke-width="0.7" fill="#fff"/>
<ellipse cx="743.17" cy="167.23" rx="1.45" ry="1.1" stroke="#000" stroke-width="0.7" fill="#fff"/>
<ellipse cx="746.73" cy="166.7" rx="1.45" ry="1.1" stroke="#000" stroke-width="0.7" fill="#fff"/>
<ellipse cx="711.56" cy="168.51" rx="1.45" ry="1.1" stroke="#000" stroke-width="0.7" fill="#fff"/>
<ellipse cx="699.69" cy="167.67" rx="1.45" ry="1.1" stroke="#000" stroke-width="0.7" fill="#fff"/>
<ellipse cx="735.57" cy="167.67" rx="1.45" ry="1.1" stroke="#000" stroke-width="0.7" fill="#fff"/>
<ellipse cx="744.63" cy="166.09" rx="1.45" ry="1.1" stroke="#000" stroke-width="0.7" fill="#fff"/>
<ellipse cx="697.11" cy="166.7" rx="1.45" ry="1.1" stroke="#000" stroke-width="0.7" fill="#fff"/>
<ellipse cx="706.72" cy="168.04" rx="1.45" ry="1.1" stroke="#000" stroke-width="0.7" fill="#fff"/>
<ellipse cx="694.04" cy="166.09" rx="1.45" ry="1.1" stroke="#000" stroke-width="0.7" fill="#fff"/>
<ellipse cx="730.16" cy="168.04" rx="1.45" ry="1.1" stroke="#000" stroke-width="0.7" fill="#fff"/>
<ellipse cx="711.65" cy="168.31" rx="1.45" ry="1.1" stroke="#000" stroke-width="0.7" fill="#fff"/>
<ellipse cx="734.81" cy="166.7" rx="1.45" ry="1.1" stroke="#000" stroke-width="0.7" fill="#fff"/>
<ellipse cx="706.45" cy="167.23" rx="1.45" ry="1.1" stroke="#000" stroke-width="0.7" fill="#fff"/>
<ellipse cx="731.41" cy="167.23" rx="1.45" ry="1.1" stroke="#000" stroke-width="0.7" fill="#fff"/>
<ellipse cx="732.22" cy="166.09" rx="1.45" ry="1.1" stroke="#000" stroke-width="0.7" fill="#fff"/>
<ellipse cx="706.49" cy="166.09" rx="1.45" ry="1.1" stroke="#000" stroke-width="0.7" fill="#fff"/>
<ellipse cx="711.36" cy="167.67" rx="1.45" ry="1.1" stroke="#000" stroke-width="0.7" fill="#fff"/>
<ellipse cx="720.29" cy="168.62" rx="1.45" ry="1.1" stroke="#000" stroke-width="0.7" fill="#fff"/>
<ellipse cx="709.44" cy="166.7" rx="1.45" ry="1.1" stroke="#000" stroke-width="0.7" fill="#fff"/>
<ellipse cx="721.56" cy="168.51" rx="1.45" ry="1.1" stroke="#000" stroke-width="0.7" fill="#fff"/>
<ellipse cx="722.9" cy="168.31" rx="1.45" ry="1.1" stroke="#000" stroke-width="0.7" fill="#fff"/>
<ellipse cx="723.65" cy="167.67" rx="1.45" ry="1.1" stroke="#000" stroke-width="0.7" fill="#fff"/>
<ellipse cx="722.2" cy="166.7" rx="1.45" ry="1.1" stroke="#000" stroke-width="0.7" fill="#fff"/>
<ellipse cx="718.4" cy="168.04" rx="1.45" ry="1.1" stroke="#000" stroke-width="0.7" fill="#fff"/>
<ellipse cx="719.36" cy="166.09" rx="1.45" ry="1.1" stroke="#000" stroke-width="0.7" fill="#fff"/>
<ellipse cx="718.93" cy="167.23" rx="1.45" ry="1.1" stroke="#000" stroke-width="0.7" fill="#fff"/>
<path d="M637.8 159.5 H800.4 Q801.6 159.5 801.6 160.7 V163.6 Q801.6 164.8 800.4 164.8 H637.8 Q636.6 164.8 636.6 163.6 V160.7 Q636.6 159.5 637.8 159.5 Z" stroke="#2a2a2a" stroke-width="0.6" fill="#fff"/>
<rect x="637" y="162.2" width="164.2" height="2.4" rx="0" stroke="none" stroke-width="0.6" fill="#d0d0d0"/>
<line x1="636.6" y1="161.7" x2="801.6" y2="161.7" stroke="#2a2a2a" stroke-width="0.6"/>
<line x1="637.2" y1="164.8" x2="801" y2="164.8" stroke="#222" stroke-width="0.8"/>
<line x1="496.5" y1="421" x2="496.5" y2="931" stroke="#2a2a2a" stroke-width="0.6"/>
<line x1="508.5" y1="421" x2="508.5" y2="931" stroke="#2a2a2a" stroke-width="0.6"/>
<rect x="494.5" y="931.5" width="16" height="9" rx="0" stroke="#2a2a2a" stroke-width="0.6" fill="#fff"/>
<rect x="455.5" y="401.4" width="6" height="27" rx="0" stroke="#222" stroke-width="0.7" fill="none" stroke-dasharray="2.6 1.3"/>
<line x1="461.6" y1="407.4" x2="470.4" y2="407.4" stroke="#222" stroke-width="0.7" stroke-dasharray="2.6 1.3"/>
<line x1="461.6" y1="421.6" x2="470.4" y2="421.6" stroke="#222" stroke-width="0.7" stroke-dasharray="2.6 1.3"/>
<line x1="472.4" y1="408" x2="472.4" y2="421.4" stroke="#666" stroke-width="0.6" stroke-dasharray="2.6 1.3"/>
<rect x="470.5" y="401.4" width="6.2" height="27.1" rx="0" stroke="#2a2a2a" stroke-width="0.6" fill="none"/>
<rect x="476.8" y="407.4" width="10.2" height="14.2" rx="0" stroke="#2a2a2a" stroke-width="0.6" fill="none"/>
<circle cx="469.4" cy="414.6" r="1.5" stroke="#000" stroke-width="0.9" fill="#fff"/>
<line x1="467.8" y1="414.6" x2="471" y2="414.6" stroke="#222" stroke-width="0.5"/>
<circle cx="484" cy="414.6" r="1.5" stroke="#000" stroke-width="0.9" fill="#fff"/>
<line x1="482.4" y1="414.6" x2="485.6" y2="414.6" stroke="#222" stroke-width="0.5"/>
<path d="M487 410.4 H494 M487 418.2 H494" stroke="#666" stroke-width="0.8" fill="none"/>
<path d="M494 395.3 H510.8 V421 H495.2 L494 418.2 Z" stroke="#fff" stroke-width="0.1" fill="#fff"/>
<path d="M494 410.4 V395.3 H510.8 V421" stroke="#2a2a2a" stroke-width="0.6" fill="none"/>
<path d="M494 418.2 L495.2 421 H510.8" stroke="#777" stroke-width="0.8" fill="none"/>
<line x1="494" y1="407.6" x2="510.8" y2="407.6" stroke="#111" stroke-width="0.8"/>
<path d="M497.4 395.3 V397.4 Q502.4 403 507.6 397.4 V395.3" stroke="#2a2a2a" stroke-width="0.6" fill="none"/>
<path d="M499 398.4 Q502.4 400.4 506 398.4" stroke="#777" stroke-width="0.5" fill="none"/>
<clipPath id="hc"><path d="M400 586 H496.3 V900 H400 Z"/></clipPath>
<path d="M495.51 586.68 L502.49 587.69 M495.01 589.6 L502 590.61 M494.52 592.52 L501.51 593.53 M494.03 595.44 L501.02 596.44 M493.54 598.35 L500.53 599.36 M493.05 601.27 L500.03 602.28 M492.55 604.19 L499.54 605.2 M492.06 607.11 L499.05 608.12 M491.57 610.03 L498.56 611.04 M491.08 612.95 L498.06 613.96 M490.58 615.87 L497.57 616.88 M490.09 618.79 L497.08 619.79 M489.6 621.7 L496.59 622.71 M489.11 624.62 L496.1 625.63 M488.62 627.54 L495.6 628.55 M488.12 630.46 L495.11 631.47 M487.63 633.38 L494.62 634.39 M487.14 636.3 L494.13 637.31 M486.65 639.22 L493.64 640.23 M486.15 642.14 L493.14 643.14 M485.66 645.05 L492.65 646.06 M485.17 647.97 L492.16 648.98 M484.68 650.89 L491.67 651.9 M484.19 653.81 L491.17 654.82 M483.69 656.73 L490.68 657.74 M483.2 659.65 L490.19 660.66 M482.71 662.57 L489.7 663.58 M482.22 665.49 L489.21 666.5 M481.73 668.41 L488.71 669.41 M481.23 671.32 L488.22 672.33 M480.74 674.24 L487.73 675.25 M480.25 677.16 L487.24 678.17 M479.76 680.08 L486.74 681.09 M479.26 683 L486.25 684.01 M478.77 685.92 L485.76 686.93 M478.28 688.84 L485.27 689.85 M477.79 691.76 L484.78 692.76 M477.3 694.67 L484.28 695.68 M476.8 697.59 L483.79 698.6 M476.31 700.51 L483.3 701.52 M475.82 703.43 L482.81 704.44 M475.33 706.35 L482.31 707.36 M474.83 709.27 L481.82 710.28 M474.34 712.19 L481.33 713.2 M473.85 715.11 L480.84 716.11 M473.36 718.02 L480.35 719.03 M472.87 720.94 L479.85 721.95 M472.37 723.86 L479.36 724.87 M471.88 726.78 L478.87 727.79 M471.39 729.7 L478.38 730.71 M470.9 732.62 L477.89 733.63 M470.4 735.54 L477.39 736.55 M469.91 738.46 L476.9 739.46 M469.42 741.37 L476.41 742.38 M468.93 744.29 L475.92 745.3 M468.44 747.21 L475.42 748.22 M467.94 750.13 L474.93 751.14 M467.45 753.05 L474.44 754.06 M466.96 755.97 L473.95 756.98 M466.47 758.89 L473.46 759.9 M465.98 761.81 L472.96 762.82 M465.48 764.73 L472.47 765.73 M464.99 767.64 L471.98 768.65 M464.5 770.56 L471.49 771.57 M464.01 773.48 L470.99 774.49 M463.51 776.4 L470.5 777.41 M463.02 779.32 L470.01 780.33 M462.53 782.24 L469.52 783.25 M462.04 785.16 L469.03 786.17 M461.55 788.08 L468.53 789.08 M461.05 790.99 L468.04 792 M460.56 793.91 L467.55 794.92 M460.07 796.83 L467.06 797.84 M459.58 799.75 L466.56 800.76 M459.08 802.67 L466.07 803.68 M458.59 805.59 L465.58 806.6 M458.1 808.51 L465.09 809.52 M457.61 811.43 L464.6 812.43 M457.12 814.34 L464.1 815.35 M456.62 817.26 L463.61 818.27 M456.13 820.18 L463.12 821.19 M455.64 823.1 L462.63 824.11 M455.15 826.02 L462.14 827.03 M454.65 828.94 L461.64 829.95 M454.16 831.86 L461.15 832.87 M453.67 834.78 L460.66 835.79 M453.18 837.7 L460.17 838.7" stroke="#222" stroke-width="1.35" fill="none" clip-path="url(#hc)"/>
<line x1="495.75" y1="586" x2="452.75" y2="841" stroke="#444" stroke-width="0.6" clip-path="url(#hc)"/>
<line x1="502.65" y1="586" x2="459.65" y2="841" stroke="#444" stroke-width="0.6" clip-path="url(#hc)"/>
<g transform="rotate(10 454.6 848)">
<path d="M449 839.6 H460 L460.8 856.2 H448 Z" stroke="#2a2a2a" stroke-width="0.6" fill="#fff"/>
</g>
<path d="M508.5 493 C511 476 516 463 521.5 452.5 C528.5 439.5 538.5 424.5 551.8 412.5 L556.2 416.2 Q557 418 556.6 421.5 C552 437 543 452 536.5 464.5 Q533.4 470.4 532 475 Q533.2 483.4 529.6 483.4 Q526.6 483 527.2 477.6" stroke="#2a2a2a" stroke-width="0.6" fill="#fff"/>
<path d="M554.8 419 C551 433 543.4 447 536.8 459.4 Q531.8 468.6 527.2 477.6" stroke="#333" stroke-width="0.55" fill="none"/>
<path d="M556.6 424.4 C552.4 437.6 544 452 537.6 464.6 Q534.6 470 533.2 473.6" stroke="#1c1c1c" stroke-width="2.2" fill="none" stroke-dasharray="1.1 0.8"/>
<path d="M527.2 477.6 C523.2 482 521.6 490 521 500 C520.6 515 520.4 525 519.4 538 C518.4 550 515 559 510.6 566" stroke="#2a2a2a" stroke-width="0.6" fill="none"/>
<path d="M501 565 V560.4 Q502.5 557.4 504 560.4 V565" stroke="#2a2a2a" stroke-width="0.7" fill="#fff"/>
<circle cx="502.4" cy="574.4" r="10" stroke="#2a2a2a" stroke-width="0.6" fill="#fff"/>
<path d="M492.5 748.5 H556.6 V756.4 H512.2 V761.8 Q512.2 763.2 510.8 763.2 H494 Q492.5 763.2 492.5 761.6 Z" stroke="#fff" stroke-width="0.1" fill="#fff"/>
<path d="M492.5 756 V748.5 H556.6 V756.4 H499.8" stroke="#2a2a2a" stroke-width="0.6" fill="none"/>
<path d="M492.5 755 V761.6 Q492.5 763.2 494 763.2 H510.8 Q512.2 763.2 512.2 761.8 V756.4" stroke="#555" stroke-width="0.8" fill="none"/>
<path d="M515.4 756.4 V758 Q515.4 759.5 517 759.5 H557.8 M549.4 756.4 V759.5" stroke="#2a2a2a" stroke-width="0.6" fill="none"/>
<line x1="496.5" y1="749" x2="496.5" y2="756" stroke="#fff" stroke-width="1.6"/>
<line x1="502.5" y1="48.6" x2="502.5" y2="126.9" stroke="#2a2a2a" stroke-width="0.6"/>
<line x1="719.5" y1="49" x2="719.5" y2="116.5" stroke="#2a2a2a" stroke-width="0.6"/>
<line x1="502.5" y1="53.5" x2="719.5" y2="53.5" stroke="#2a2a2a" stroke-width="0.6"/>
<polygon points="502.5,53.5 516.9,51.1 516.9,55.9" fill="#000"/>
<polygon points="719.5,53.5 705.1,55.9 705.1,51.1" fill="#000"/>
<line x1="770" y1="81.4" x2="728.4" y2="131.6" stroke="#2a2a2a" stroke-width="0.6"/>
<polygon points="728.3,131.7 736.84,116.7 741.46,120.52" fill="#000"/>
<line x1="697" y1="92.5" x2="843" y2="92.5" stroke="#2a2a2a" stroke-width="0.6"/>
<line x1="727" y1="147.5" x2="843" y2="147.5" stroke="#2a2a2a" stroke-width="0.6"/>
<line x1="837.6" y1="92.5" x2="837.6" y2="147.5" stroke="#2a2a2a" stroke-width="0.6"/>
<polygon points="837.6,92.5 840,106.9 835.2,106.9" fill="#000"/>
<polygon points="837.6,147.5 835.2,133.1 840,133.1" fill="#000"/>
<line x1="616" y1="135.5" x2="712.5" y2="135.5" stroke="#2a2a2a" stroke-width="0.6"/>
<line x1="615" y1="170" x2="723" y2="170" stroke="#2a2a2a" stroke-width="0.6"/>
<line x1="621.5" y1="114" x2="621.5" y2="191.6" stroke="#2a2a2a" stroke-width="0.6"/>
<polygon points="621.5,135.5 619.1,121.1 623.9,121.1" fill="#000"/>
<polygon points="621.5,170 623.9,184.4 619.1,184.4" fill="#000"/>
<line x1="723.5" y1="169.6" x2="723.5" y2="940.5" stroke="#2a2a2a" stroke-width="0.6"/>
<polygon points="723.5,169.2 725.9,183.6 721.1,183.6" fill="#000"/>
<polygon points="723.5,940.5 721.1,926.1 725.9,926.1" fill="#000"/>
<line x1="332.5" y1="940.5" x2="492.8" y2="940.5" stroke="#2a2a2a" stroke-width="0.6"/>
<line x1="512.5" y1="940.5" x2="728.2" y2="940.5" stroke="#2a2a2a" stroke-width="0.6"/>
<line x1="374.4" y1="309" x2="521" y2="309" stroke="#2a2a2a" stroke-width="0.6"/>
<polygon points="455.5,309 441.1,311.4 441.1,306.6" fill="#000"/>
<polygon points="502.5,309 516.9,306.6 516.9,311.4" fill="#000"/>
<line x1="502.5" y1="304" x2="502.5" y2="331.6" stroke="#2a2a2a" stroke-width="0.6"/>
<line x1="455.5" y1="304" x2="455.5" y2="401" stroke="#444" stroke-width="0.6" stroke-dasharray="2.6 1.3"/>
<line x1="470.5" y1="304" x2="470.5" y2="398.2" stroke="#2a2a2a" stroke-width="0.6"/>
<line x1="442" y1="401.4" x2="455.2" y2="401.4" stroke="#2a2a2a" stroke-width="0.6"/>
<line x1="442" y1="428.4" x2="455.2" y2="428.4" stroke="#2a2a2a" stroke-width="0.6"/>
<line x1="450.5" y1="382" x2="450.5" y2="447" stroke="#2a2a2a" stroke-width="0.6"/>
<polygon points="450.5,401.4 448.1,387 452.9,387" fill="#000"/>
<polygon points="450.5,428.4 452.9,442.8 448.1,442.8" fill="#000"/>
<line x1="594.7" y1="428.1" x2="532.2" y2="582.9" stroke="#2a2a2a" stroke-width="0.6"/>
<polygon points="594.7,428.1 591.53,442.35 587.08,440.55" fill="#000"/>
<polygon points="532.2,582.9 535.37,568.65 539.82,570.45" fill="#000"/>
<line x1="587.65" y1="425.25" x2="601.75" y2="430.95" stroke="#2a2a2a" stroke-width="0.6"/>
<line x1="522.37" y1="578.93" x2="537.39" y2="585" stroke="#2a2a2a" stroke-width="0.6"/>
<path d="M445 607.5 H451 L493 579" stroke="#2a2a2a" stroke-width="0.6" fill="none"/>
<polygon points="493.4,578.8 483.53,588.49 480.73,584.35" fill="#000"/>
<path d="M437.5 749.5 H444.5 L473.6 718.8" stroke="#2a2a2a" stroke-width="0.6" fill="none"/>
<polygon points="473.8,718.6 466.35,730.25 462.7,726.84" fill="#000"/>
<path d="M432.5 898.5 H439.5 L453.2 852.6" stroke="#2a2a2a" stroke-width="0.6" fill="none"/>
<polygon points="453.3,852.4 451.79,866.15 447,864.71" fill="#000"/>
<line x1="492.5" y1="765.6" x2="492.5" y2="807" stroke="#2a2a2a" stroke-width="0.6"/>
<line x1="557.5" y1="756.6" x2="557.5" y2="807" stroke="#2a2a2a" stroke-width="0.6"/>
<line x1="492.5" y1="802.5" x2="557.5" y2="802.5" stroke="#2a2a2a" stroke-width="0.6"/>
<polygon points="492.5,802.5 506.9,800.1 506.9,804.9" fill="#000"/>
<polygon points="557.5,802.5 543.1,804.9 543.1,800.1" fill="#000"/>
<line x1="558" y1="748.5" x2="587" y2="748.5" stroke="#2a2a2a" stroke-width="0.6"/>
<line x1="557.8" y1="759.5" x2="587" y2="759.5" stroke="#2a2a2a" stroke-width="0.6"/>
<line x1="582.5" y1="677" x2="582.5" y2="778.3" stroke="#2a2a2a" stroke-width="0.6"/>
<polygon points="582.5,748.5 580.1,734.1 584.9,734.1" fill="#000"/>
<polygon points="582.5,759.5 584.9,773.9 580.1,773.9" fill="#000"/>
<g opacity="0.999">
<text transform="translate(222 202.6) scale(1 0.97)" font-size="18.2" text-anchor="start"><tspan class="d" x="-15.8" y="2.3" rotate="-13">∅</tspan><tspan x="0" y="0" rotate="0">300 mm</tspan></text>
<text transform="translate(174.6 285.4) scale(1 0.97)" font-size="18.2" text-anchor="start"><tspan class="d" x="-15.8" y="2.3" rotate="-13">∅</tspan><tspan x="0" y="0" rotate="0">19 mm</tspan></text>
<text transform="translate(341.8 397.1) scale(1 0.97)" font-size="18.2" text-anchor="start" letter-spacing="-0.1"><tspan class="d" x="-17.2" y="2.3" rotate="-13">∅</tspan><tspan x="0" y="0" rotate="0">121 mm</tspan></text>
<text transform="translate(333 707.2) scale(1 1) rotate(-90)" font-size="18.2" text-anchor="start">958 mm</text>
<text transform="translate(174.6 861.4) scale(1 0.97)" font-size="18.2" text-anchor="start"><tspan class="d" x="-15.8" y="2.3" rotate="-13">∅</tspan><tspan x="0" y="0" rotate="0">22 mm</tspan></text>
<text transform="translate(220.2 896.5) scale(1 0.97)" font-size="18.2" text-anchor="start" letter-spacing="-0.36">144 mm</text>
<text transform="translate(282.4 966.7) scale(1 0.97)" font-size="18.2" text-anchor="start" letter-spacing="-0.3">G3/4</text>
<text transform="translate(582 45.6) scale(1 0.97)" font-size="18.2" text-anchor="start">410 mm</text>
<text transform="translate(754.5 76.6) scale(1 0.97)" font-size="18.2" text-anchor="start">G1/2</text>
<text transform="translate(827.8 147.6) scale(1 0.95) rotate(-90)" font-size="18.2" text-anchor="start">95 mm</text>
<text transform="translate(610 179) scale(1 1) rotate(-90)" font-size="18.2" text-anchor="start">63 mm</text>
<text transform="translate(712.8 613.2) scale(1 1) rotate(-90)" font-size="18.2" text-anchor="start">1000-1450 mm</text>
<text transform="translate(375 297.6) scale(1 0.97)" font-size="18.2" text-anchor="start">55-85 mm</text>
<text transform="translate(435 429.3) scale(1 1) rotate(-90)" font-size="18.2" text-anchor="start"><tspan class="d" x="-18.8" y="2.3" rotate="-13">∅ </tspan><tspan x="0" y="0" rotate="0">60 mm</tspan></text>
<text transform="translate(582.6 513.4) scale(1 1) rotate(-68.01)" font-size="18.2" text-anchor="middle">268 mm</text>
<text transform="translate(387.2 612.9) scale(1 0.97)" font-size="18.2" text-anchor="start"><tspan class="d" x="-15.8" y="2.3" rotate="-13">∅</tspan><tspan x="0" y="0" rotate="0">36 mm</tspan></text>
<text transform="translate(390.4 754.8) scale(1 0.97)" font-size="18.2" text-anchor="start" letter-spacing="-0.45">1,5 m</text>
<text transform="translate(389.2 904.8) scale(1 0.97)" font-size="18.2" text-anchor="start" letter-spacing="-0.3">G1/2</text>
<text transform="translate(500.6 824.6) scale(1 0.97)" font-size="18.2" text-anchor="start" letter-spacing="-0.4">118 mm</text>
<text transform="translate(574.6 727.8) scale(1 1) rotate(-90)" font-size="18.2" text-anchor="start">20 mm</text>
</g>
</svg>
</body>
</html>
